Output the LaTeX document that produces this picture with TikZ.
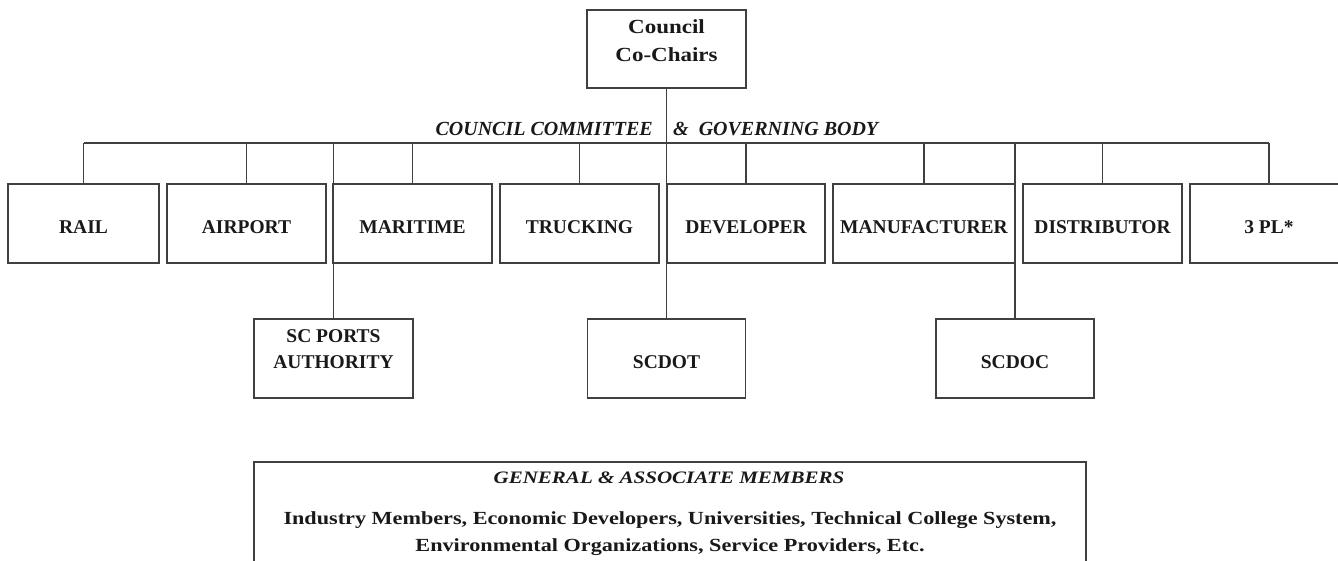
\documentclass[tikz,border=0pt]{standalone}
\usepackage{fontspec}
\setmainfont{Liberation Serif}
\newfontfamily\wfont[FakeStretch=1.15]{Liberation Serif}
\newfontfamily\wifont[FakeStretch=1.2]{Liberation Serif}
\begin{document}
\begin{tikzpicture}[x=1pt,y=-1pt,
  line/.style={draw=black!75, line width=1.8pt},
  box/.style={draw=black!75, line width=1.8pt, minimum height=79pt, inner sep=0pt,
    text height=20pt, text depth=0pt,
    font=\bfseries\fontsize{19.5}{22}\selectfont, text=black!90},
  txt/.style={inner sep=0pt, text=black!90, align=center},
]
\useasboundingbox (0,0) rectangle (1338,560);
% top
\node[box, minimum width=159pt, minimum height=78pt] (council) at (666.5,49) {};
\node[txt, font=\wfont\bfseries\fontsize{20}{28}\selectfont] (councilT) at (666.5,41) {Council\\Co-Chairs};
\coordinate (bus) at (666.5,143);
% row of committee boxes
\node[box, minimum width=151pt] (rail) at (83.5,223.5) {RAIL};
\node[box, minimum width=159pt] (airport) at (246.5,223.5) {AIRPORT};
\node[box, minimum width=159pt] (maritime) at (412.5,223.5) {MARITIME};
\node[box, minimum width=159pt] (trucking) at (579.5,223.5) {TRUCKING};
\node[box, minimum width=158pt] (developer) at (746,223.5) {DEVELOPER};
\node[box, minimum width=182pt] (manufacturer) at (924,223.5) {MANUFACTURER};
\node[box, minimum width=159pt] (distributor) at (1102.5,223.5) {DISTRIBUTOR};
\node[box, minimum width=158pt] (tpl) at (1269,223.5) {3 PL*};
% lower boxes
\node[box, minimum width=159pt] (scports) at (333.5,358.5) {};
\node[txt, font=\bfseries\fontsize{19.5}{26}\selectfont] (scportsT) at (333.5,349) {SC PORTS\\AUTHORITY};
\node[box, minimum width=158pt] (scdot) at (666.5,358.5) {};
\node[txt, font=\bfseries\fontsize{19.5}{26}\selectfont] (scdotT) at (666.5,362) {SCDOT};
\node[box, minimum width=158pt] (scdoc) at (1015,358.5) {};
\node[txt, font=\bfseries\fontsize{19.5}{26}\selectfont] (scdocT) at (1015,362) {SCDOC};
% committee label
\node[txt, anchor=east, font=\bfseries\itshape\fontsize{20}{24}\selectfont] (ccL) at (653,129) {COUNCIL COMMITTEE};
\node[txt, anchor=west, font=\bfseries\itshape\fontsize{20}{24}\selectfont] (ccR) at (673,129) {\&\ \ GOVERNING BODY};
% connectors
\draw[line] (council.south) -- (scdot.north);
\draw[line] (rail.north |- bus) -- (tpl.north |- bus);
\foreach \n in {rail,airport,maritime,trucking,developer,manufacturer,distributor,tpl}
  \draw[line] (\n.north |- bus) -- (\n.north);
\draw[line] (scports.north |- bus) -- (scports.north);
\draw[line] (scdoc.north |- bus) -- (scdoc.north);
% members box
\node[box, minimum width=832pt, minimum height=120pt] (members) at (670,522) {};
\node[txt, font=\wifont\bfseries\itshape\fontsize{17.5}{20}\selectfont] (memT) at (669,478) {GENERAL \& ASSOCIATE MEMBERS};
\node[txt, font=\wifont\bfseries\fontsize{18.5}{27}\selectfont] (memL) at (670,533.5) {Industry Members, Economic Developers, Universities, Technical College System,\\Environmental Organizations, Service Providers, Etc.};
\end{tikzpicture}
\end{document}
